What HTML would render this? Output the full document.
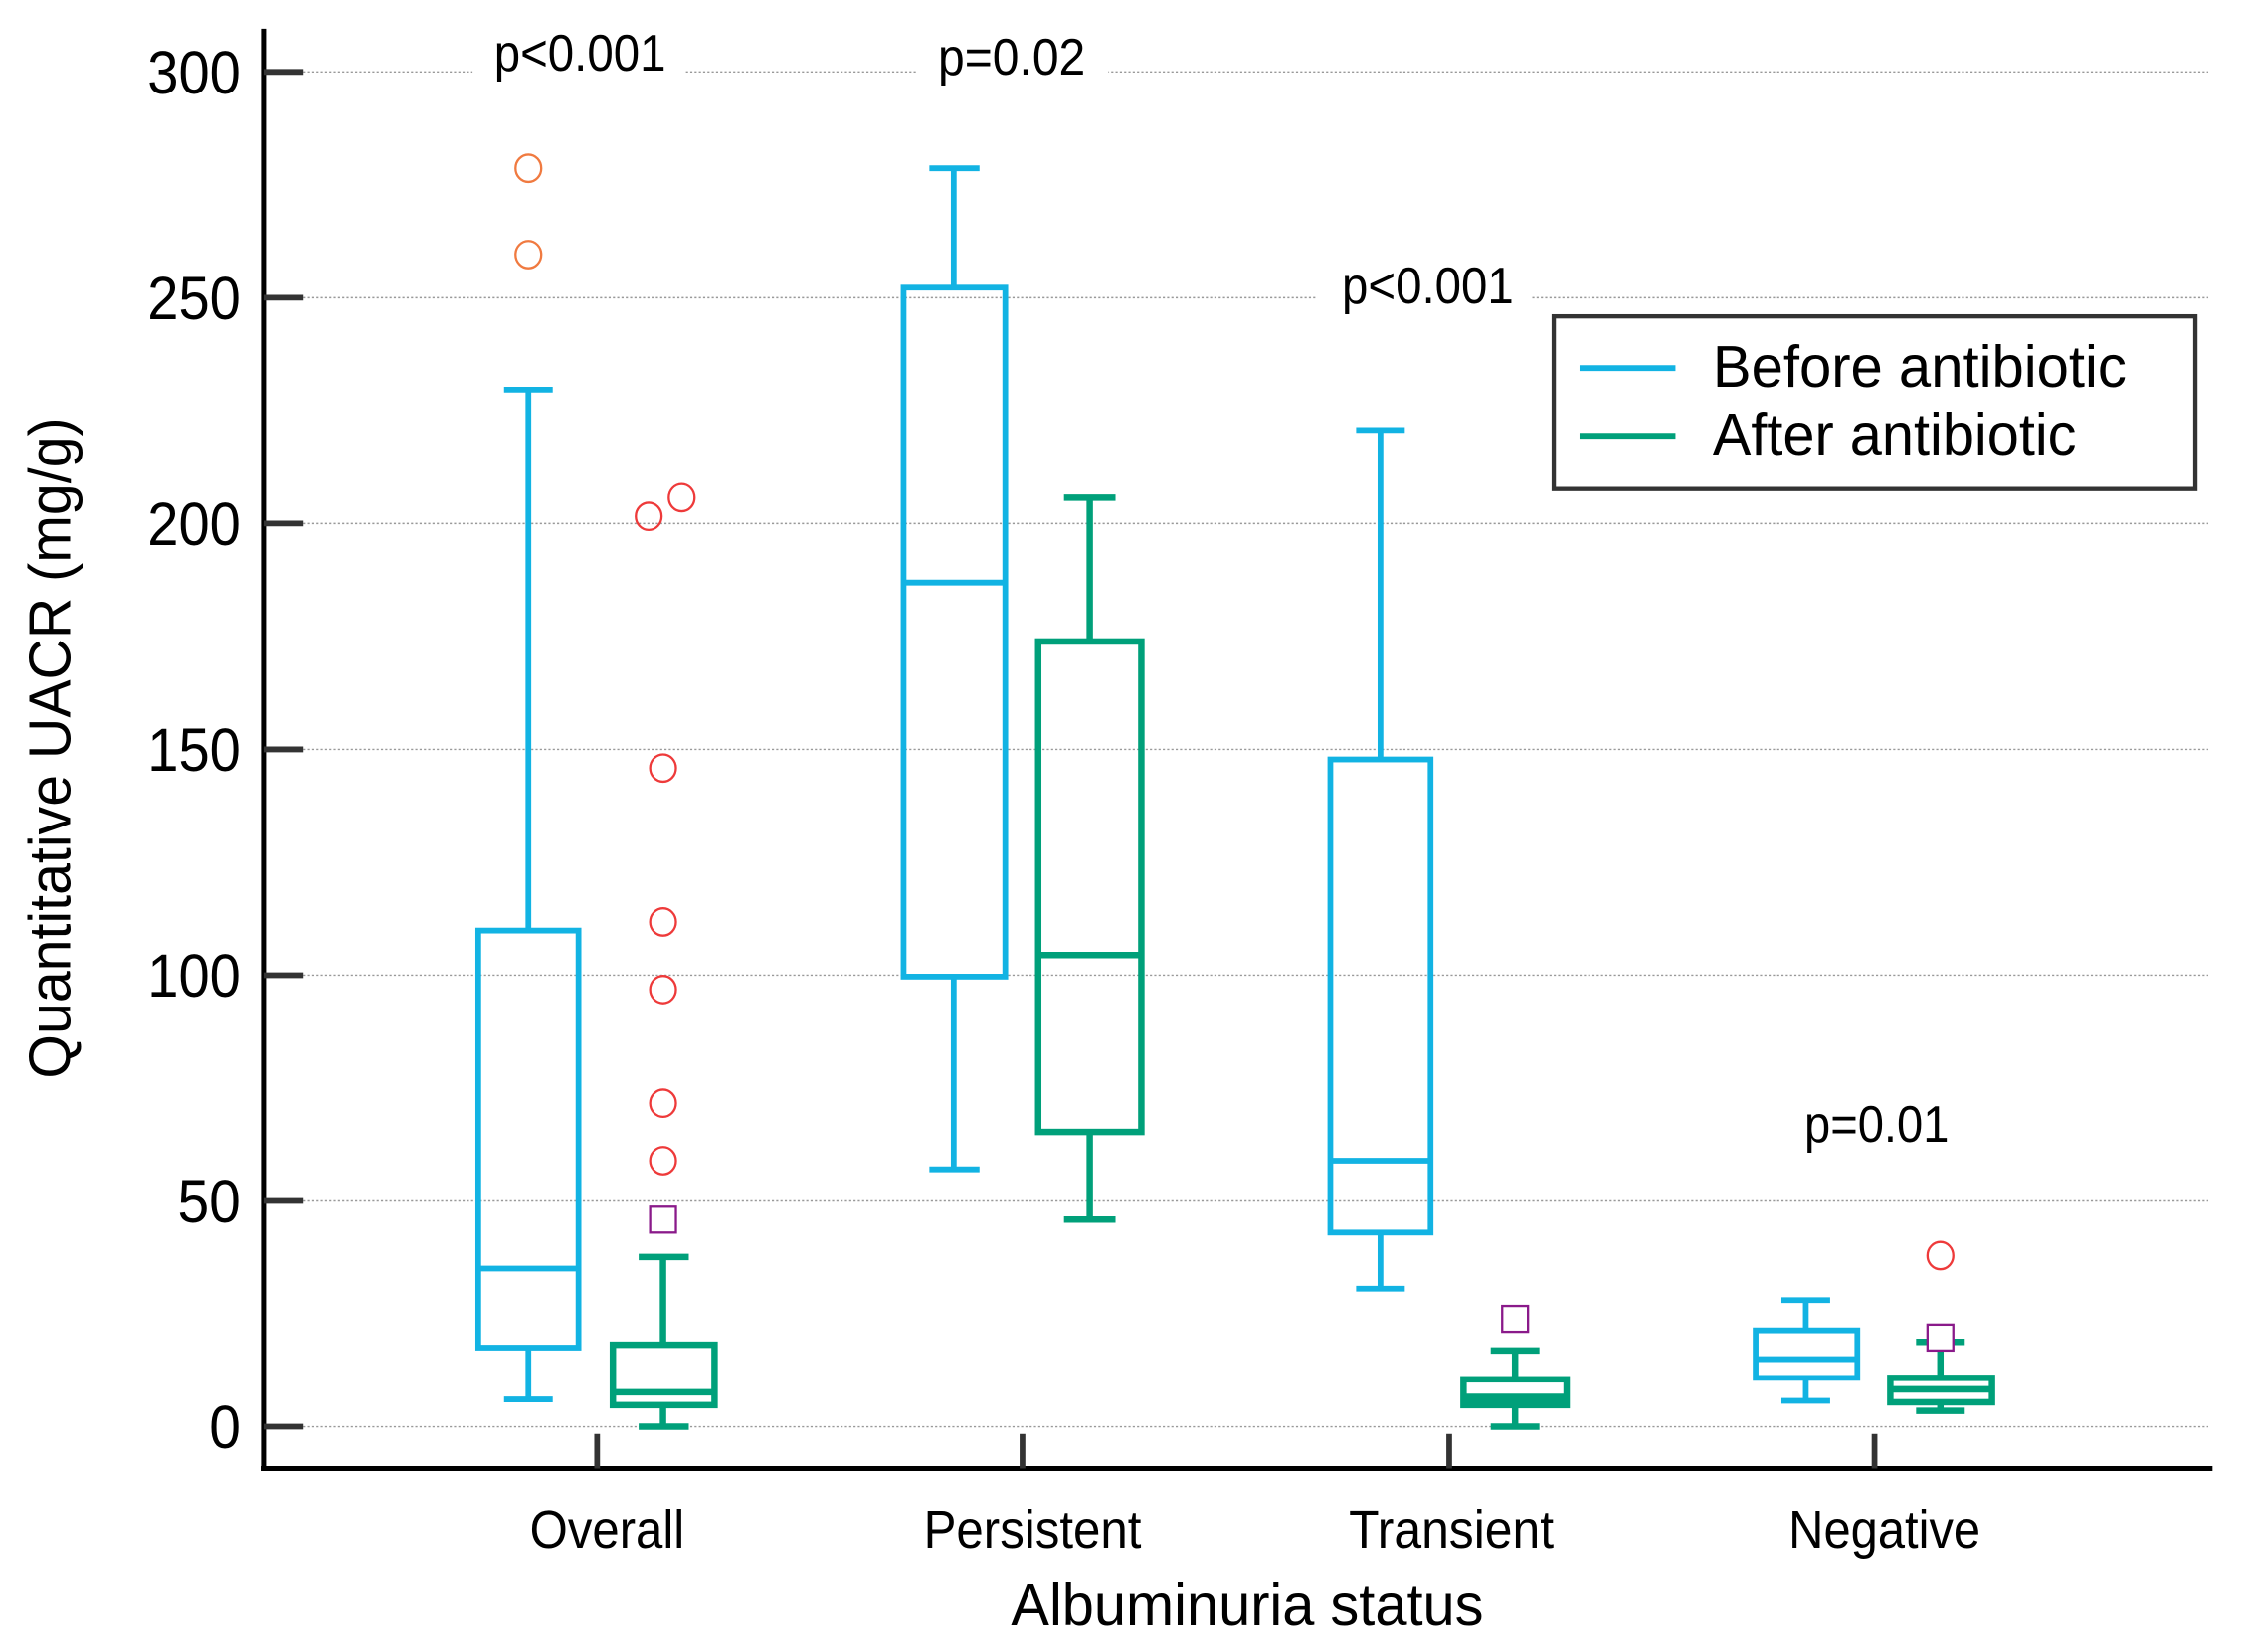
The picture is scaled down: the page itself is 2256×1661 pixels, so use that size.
<!DOCTYPE html>
<html><head><meta charset="utf-8"><style>
html,body{margin:0;padding:0;background:#fff;}
svg{display:block;}
text{font-family:"Liberation Sans",Arial,sans-serif;fill:#000;}
</style></head><body>
<svg width="2256" height="1661" viewBox="0 0 1567 1148.6" preserveAspectRatio="none" xmlns="http://www.w3.org/2000/svg">
<rect width="1567" height="1148.6" fill="#fff"/>
<g stroke="#999" stroke-width="1" stroke-dasharray="1.5,1.5">
<line x1="212" y1="50" x2="1542" y2="50"/>
<line x1="212" y1="207" x2="1542" y2="207"/>
<line x1="212" y1="364" x2="1542" y2="364"/>
<line x1="212" y1="521" x2="1542" y2="521"/>
<line x1="212" y1="678" x2="1542" y2="678"/>
<line x1="212" y1="835" x2="1542" y2="835"/>
<line x1="212" y1="992" x2="1542" y2="992"/>
</g>
<rect x="330" y="18" width="148" height="50" fill="#fff"/>
<rect x="640" y="18" width="134" height="50" fill="#fff"/>
<rect x="920" y="175" width="150" height="50" fill="#fff"/>
<g font-size="36">
<text x="345" y="49" textLength="120" lengthAdjust="spacingAndGlyphs">p&lt;0.001</text>
<text x="655" y="52" textLength="103" lengthAdjust="spacingAndGlyphs">p=0.02</text>
<text x="937" y="211" textLength="120" lengthAdjust="spacingAndGlyphs">p&lt;0.001</text>
<text x="1260" y="794" textLength="101" lengthAdjust="spacingAndGlyphs">p=0.01</text>
</g>
<line x1="184" y1="20" x2="184" y2="1022" stroke="#000" stroke-width="3.5"/>
<line x1="182" y1="1021" x2="1545" y2="1021" stroke="#000" stroke-width="3.5"/>
<g stroke="#333" stroke-width="4">
<line x1="184" y1="50" x2="212" y2="50"/>
<line x1="184" y1="207" x2="212" y2="207"/>
<line x1="184" y1="364" x2="212" y2="364"/>
<line x1="184" y1="521" x2="212" y2="521"/>
<line x1="184" y1="678" x2="212" y2="678"/>
<line x1="184" y1="835" x2="212" y2="835"/>
<line x1="184" y1="992" x2="212" y2="992"/>
<line x1="417" y1="997" x2="417" y2="1021"/>
<line x1="714" y1="997" x2="714" y2="1021"/>
<line x1="1012" y1="997" x2="1012" y2="1021"/>
<line x1="1309" y1="997" x2="1309" y2="1021"/>
</g>
<g font-size="42" text-anchor="end">
<text x="168" y="65" textLength="65" lengthAdjust="spacingAndGlyphs">300</text>
<text x="168" y="222" textLength="65" lengthAdjust="spacingAndGlyphs">250</text>
<text x="168" y="379" textLength="65" lengthAdjust="spacingAndGlyphs">200</text>
<text x="168" y="536" textLength="65" lengthAdjust="spacingAndGlyphs">150</text>
<text x="168" y="693" textLength="65" lengthAdjust="spacingAndGlyphs">100</text>
<text x="168" y="850" textLength="44" lengthAdjust="spacingAndGlyphs">50</text>
<text x="168" y="1007" textLength="22" lengthAdjust="spacingAndGlyphs">0</text>
</g>
<g font-size="37">
<text x="370" y="1076" textLength="108" lengthAdjust="spacingAndGlyphs">Overall</text>
<text x="645" y="1076" textLength="152" lengthAdjust="spacingAndGlyphs">Persistent</text>
<text x="942" y="1076" textLength="143" lengthAdjust="spacingAndGlyphs">Transient</text>
<text x="1249" y="1076" textLength="134" lengthAdjust="spacingAndGlyphs">Negative</text>
</g>
<text x="706" y="1130" font-size="41" textLength="330" lengthAdjust="spacingAndGlyphs">Albuminuria status</text>
<text transform="translate(49,750) rotate(-90)" font-size="41" textLength="460" lengthAdjust="spacingAndGlyphs">Quantitative UACR (mg/g)</text>

<g stroke="#12b3e3" stroke-width="4" fill="none">
<line x1="369" y1="271" x2="369" y2="647"/><line x1="352" y1="271" x2="386" y2="271"/>
<rect x="334" y="647" width="70" height="290"/>
<line x1="334" y1="882" x2="404" y2="882"/>
<line x1="369" y1="937" x2="369" y2="973"/><line x1="352" y1="973" x2="386" y2="973"/>
<line x1="666" y1="117" x2="666" y2="200"/><line x1="649" y1="117" x2="684" y2="117"/>
<rect x="631" y="200" width="71" height="479"/>
<line x1="631" y1="405" x2="702" y2="405"/>
<line x1="666" y1="679" x2="666" y2="813"/><line x1="649" y1="813" x2="684" y2="813"/>
<line x1="964" y1="299" x2="964" y2="528"/><line x1="947" y1="299" x2="981" y2="299"/>
<rect x="929" y="528" width="70" height="329"/>
<line x1="929" y1="807" x2="999" y2="807"/>
<line x1="964" y1="857" x2="964" y2="896"/><line x1="947" y1="896" x2="981" y2="896"/>
<line x1="1261" y1="904" x2="1261" y2="925"/><line x1="1244" y1="904" x2="1278" y2="904"/>
<rect x="1226" y="925" width="71" height="33"/>
<line x1="1226" y1="945" x2="1297" y2="945"/>
<line x1="1261" y1="958" x2="1261" y2="974"/><line x1="1244" y1="974" x2="1278" y2="974"/>
</g>
<g stroke="#00a07a" stroke-width="4.5" fill="none">
<line x1="463" y1="874" x2="463" y2="935"/><line x1="446" y1="874" x2="481" y2="874"/>
<rect x="428" y="935" width="71" height="42"/>
<line x1="428" y1="968" x2="499" y2="968"/>
<line x1="463" y1="977" x2="463" y2="992"/><line x1="446" y1="992" x2="481" y2="992"/>
<line x1="761" y1="346" x2="761" y2="446"/><line x1="743" y1="346" x2="779" y2="346"/>
<rect x="725" y="446" width="72" height="341"/>
<line x1="725" y1="664" x2="797" y2="664"/>
<line x1="761" y1="787" x2="761" y2="848"/><line x1="743" y1="848" x2="779" y2="848"/>
<line x1="1058" y1="939" x2="1058" y2="959"/><line x1="1041" y1="939" x2="1075" y2="939"/>
<rect x="1022" y="959" width="72" height="18"/>
<line x1="1022" y1="972" x2="1094" y2="972" stroke-width="6"/>
<line x1="1058" y1="977" x2="1058" y2="992"/><line x1="1041" y1="992" x2="1075" y2="992"/>
<line x1="1355" y1="933" x2="1355" y2="958"/><line x1="1338" y1="933" x2="1372" y2="933"/>
<rect x="1320" y="958" width="71" height="17"/>
<line x1="1320" y1="966" x2="1391" y2="966"/>
<line x1="1355" y1="975" x2="1355" y2="981"/><line x1="1338" y1="981" x2="1372" y2="981"/>
</g>
<g fill="none" stroke-width="1.6">
<g stroke="#f07a40">
<ellipse cx="369" cy="117" rx="9" ry="9.5"/>
<ellipse cx="369" cy="177" rx="9" ry="9.5"/>
</g>
<g stroke="#ee3a3a">
<ellipse cx="453" cy="359" rx="9" ry="9.5"/>
<ellipse cx="476" cy="346" rx="9" ry="9.5"/>
<ellipse cx="463" cy="534" rx="9" ry="9.5"/>
<ellipse cx="463" cy="641" rx="9" ry="9.5"/>
<ellipse cx="463" cy="688" rx="9" ry="9.5"/>
<ellipse cx="463" cy="767" rx="9" ry="9.5"/>
<ellipse cx="463" cy="807" rx="9" ry="9.5"/>
<ellipse cx="1355" cy="873" rx="9" ry="9.5"/>
</g>
<g stroke="#8a1a8a" fill="#fff">
<rect x="454" y="839" width="18" height="18"/>
<rect x="1049" y="908" width="18" height="18"/>
<rect x="1346" y="921" width="18" height="18"/>
</g>
</g>
<rect x="1085" y="220" width="448" height="120" fill="#fff" stroke="#333" stroke-width="3"/>
<line x1="1103" y1="256" x2="1170" y2="256" stroke="#12b3e3" stroke-width="4"/>
<line x1="1103" y1="303" x2="1170" y2="303" stroke="#00a07a" stroke-width="4"/>
<text x="1196" y="269" font-size="41" textLength="289" lengthAdjust="spacingAndGlyphs">Before antibiotic</text>
<text x="1196" y="316" font-size="41" textLength="254" lengthAdjust="spacingAndGlyphs">After antibiotic</text>
</svg>
</body></html>
